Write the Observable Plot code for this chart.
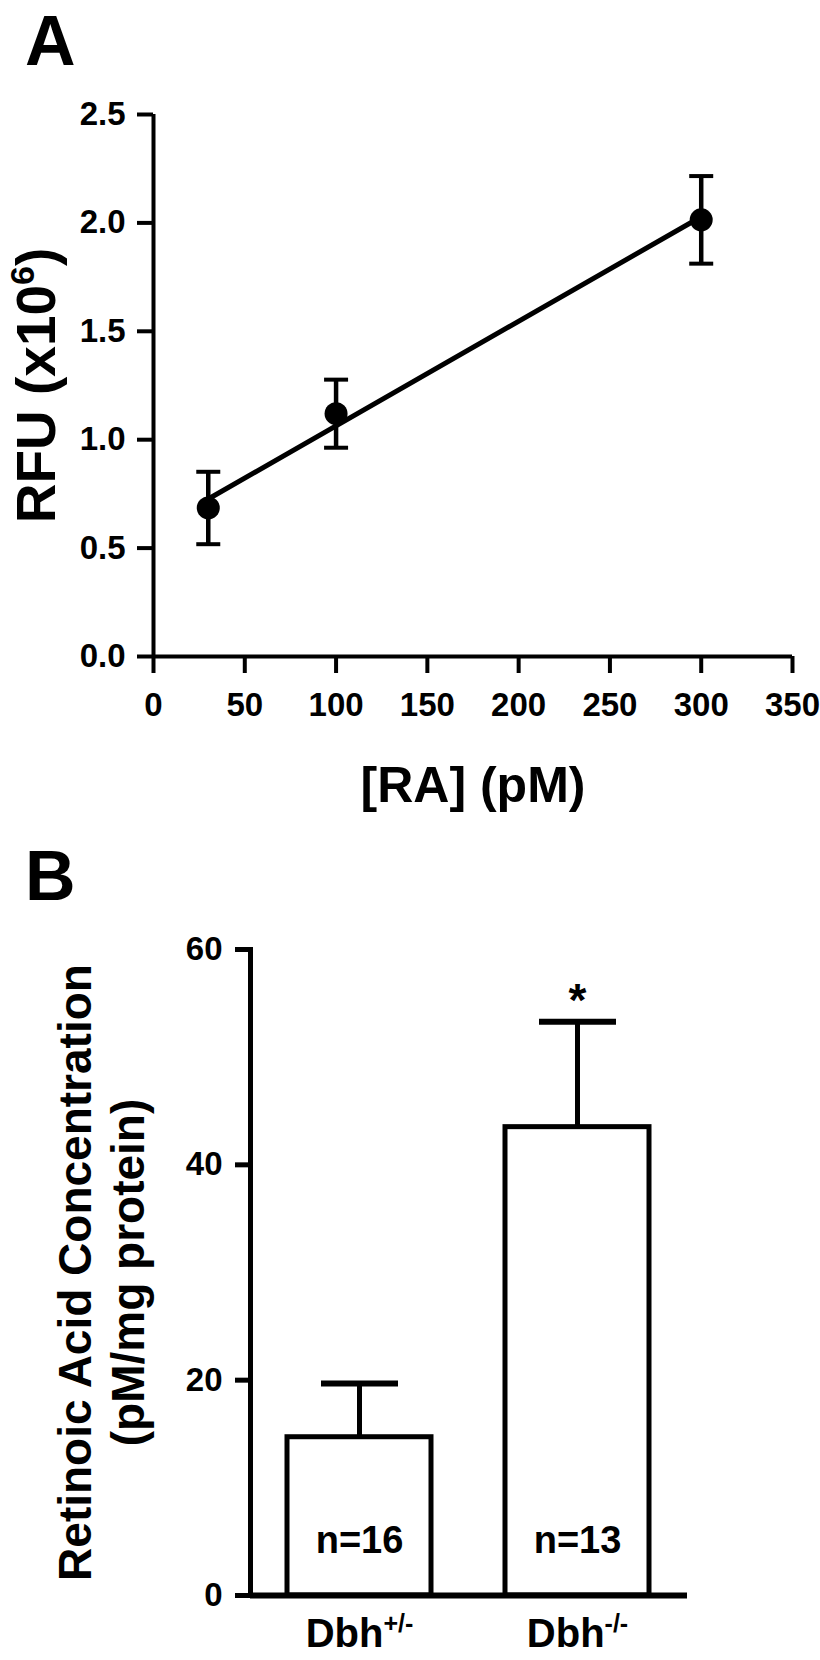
<!DOCTYPE html>
<html><head><meta charset="utf-8">
<script src="https://cdn.jsdelivr.net/npm/d3@7"></script>
<script src="https://cdn.jsdelivr.net/npm/@observablehq/plot@0.6"></script>
<style>
html,body{margin:0;padding:0;background:#fff;}
body{width:820px;height:1660px;position:relative;font-family:"Liberation Sans",Arial,sans-serif;font-weight:bold;color:#000;}
.panel{position:absolute;left:25px;font-size:70px;line-height:1;font-weight:bold;}
#chart svg{display:block;}
#plotA g[aria-label="y-axis label"] text{font-size:55px;}
#plotA g[aria-label="x-axis label"] text{font-size:50px;}
#plotB g[aria-label="y-axis label"] text{font-size:46px;}
</style></head><body>
<div id="chart"></div>
<div class="panel" style="top:6px">A</div>
<div class="panel" style="top:841px">B</div>
<script>
// Panel A: standard curve
const raConc = [30, 100, 300];            // [RA] (pM)
const rfuMean = [0.685, 1.12, 2.014];     // RFU (x10^6)
const rfuSem = [0.167, 0.157, 0.202];
const xTicksA = [0, 50, 100, 150, 200, 250, 300, 350];
const yTicksA = [0, 0.5, 1.0, 1.5, 2.0, 2.5];

// Panel B: tissue retinoic acid
const genotypes = ["Dbh+/-", "Dbh-/-"];
const raMean = [14.7, 43.5];
const raSem = [5.0, 9.8];
const nLabels = ["n=16", "n=13"];
const sigMarks = ["", "*"];
const yTicksB = [0, 20, 40, 60];

const font = '"Liberation Sans", Arial, sans-serif';
const capSym = {draw(ctx, size) { const w = Math.sqrt(size / Math.PI); ctx.moveTo(-w, 0); ctx.lineTo(w, 0); }};

const dataA = raConc.map((x, i) => ({x, y: rfuMean[i], lo: rfuMean[i] - rfuSem[i], hi: rfuMean[i] + rfuSem[i]}));
const dataB = genotypes.map((g, i) => ({g, m: raMean[i], hi: raMean[i] + raSem[i], n: nLabels[i], s: sigMarks[i]}));

const plotA = Plot.plot({
  width: 820, height: 860,
  marginLeft: 153, marginRight: 28, marginTop: 114, marginBottom: 204,
  style: {fontFamily: font, fontWeight: "bold", background: "white", color: "black", overflow: "visible"},
  x: {domain: [0, 350]},
  y: {domain: [0, 2.5]},
  marks: [
    Plot.axisX({ticks: xTicksA, tickSize: 17, tickPadding: 19, strokeWidth: 4, fontSize: 33,
      label: "[RA] (pM)", labelAnchor: "center", labelOffset: 145, labelArrow: "none"}),
    Plot.axisY({ticks: yTicksA, tickFormat: d3.format(".1f"), tickSize: 16, tickPadding: 12, strokeWidth: 4, fontSize: 33,
      label: "RFU (x106)", labelAnchor: "center", labelOffset: 138, labelArrow: "none"}),
    Plot.ruleX([0], {strokeWidth: 4}),
    Plot.ruleY([0], {strokeWidth: 4}),
    Plot.linearRegressionY(dataA, {x: "x", y: "y", ci: 0, stroke: "black", strokeWidth: 5}),
    Plot.ruleX(dataA, {x: "x", y1: "lo", y2: "hi", strokeWidth: 4.5}),
    Plot.dot(dataA, {x: "x", y: "hi", r: 12, symbol: capSym, fill: "none", stroke: "black", strokeWidth: 4}),
    Plot.dot(dataA, {x: "x", y: "lo", r: 12, symbol: capSym, fill: "none", stroke: "black", strokeWidth: 4}),
    Plot.dot(dataA, {x: "x", y: "y", r: 11.5, fill: "black", stroke: "none"})
  ]
});
plotA.id = "plotA";

const plotB = Plot.plot({
  width: 820, height: 800,
  marginLeft: 250, marginRight: 133, marginTop: 89, marginBottom: 65,
  style: {fontFamily: font, fontWeight: "bold", background: "white", color: "black", overflow: "visible"},
  x: {domain: genotypes, paddingInner: 0.339, paddingOuter: 0.17},
  y: {domain: [0, 60]},
  marks: [
    Plot.axisX({tickSize: 0, tickPadding: 23, fontSize: 40, label: null}),
    Plot.axisY({ticks: yTicksB, tickSize: 15, tickPadding: 13, strokeWidth: 5, fontSize: 33,
      label: "Retinoic Acid Concentration\n(pM/mg protein)", labelAnchor: "center", labelOffset: 192, labelArrow: "none"}),
    Plot.barY(dataB, {x: "g", y: "m", fill: "white", stroke: "black", strokeWidth: 5}),
    Plot.ruleX(dataB, {x: "g", y1: "m", y2: "hi", strokeWidth: 5}),
    Plot.dot(dataB, {x: "g", y: "hi", r: 38.5, symbol: capSym, fill: "none", stroke: "black", strokeWidth: 6}),
    Plot.text(dataB, {x: "g", y: "hi", text: "s", fontSize: 46, lineAnchor: "bottom", dy: -6}),
    Plot.text(dataB, {x: "g", y: 0, text: "n", fontSize: 38, lineAnchor: "middle", dy: -55}),
    Plot.frame({anchor: "left", strokeWidth: 5}),
    Plot.ruleY([0], {strokeWidth: 6})
  ]
});
plotB.id = "plotB";

const chart = document.getElementById("chart");
chart.append(plotA, plotB);

const NS = "http://www.w3.org/2000/svg";
function rebuild(textEl, lines, lineGap) {
  textEl.removeAttribute("y");
  textEl.removeAttribute("dy");
  while (textEl.firstChild) textEl.removeChild(textEl.firstChild);
  lines.forEach((segs, li) => {
    segs.forEach((seg, si) => {
      const t = document.createElementNS(NS, "tspan");
      if (si === 0) { t.setAttribute("x", "0"); t.setAttribute("dy", li === 0 ? "0.71em" : lineGap); }
      else if (seg.dy) t.setAttribute("dy", seg.dy);
      if (seg.size) t.setAttribute("font-size", seg.size);
      t.textContent = seg.t;
      textEl.appendChild(t);
    });
  });
}
// Superscript for RFU (x10^6)
const yLabA = plotA.querySelector('g[aria-label="y-axis label"] text');
if (yLabA) rebuild(yLabA, [[{t: "RFU (x10"}, {t: "6", size: "34px", dy: "-21"}, {t: ")", dy: "21"}]]);
// Two-line label for panel B
const yLabB = plotB.querySelector('g[aria-label="y-axis label"] text');
if (yLabB) rebuild(yLabB, [[{t: "Retinoic Acid Concentration"}], [{t: "(pM/mg protein)"}]], "53");
// Superscripts on genotype tick labels
plotB.querySelectorAll('g[aria-label="x-axis tick label"] text').forEach(el => {
  const s = el.textContent;
  const base = s.slice(0, 3), sup = s.slice(3);
  el.textContent = base;
  const t = document.createElementNS(NS, "tspan");
  t.setAttribute("font-size", "25px");
  t.setAttribute("dy", "-15");
  t.textContent = sup;
  el.appendChild(t);
});
</script>
</body></html>
